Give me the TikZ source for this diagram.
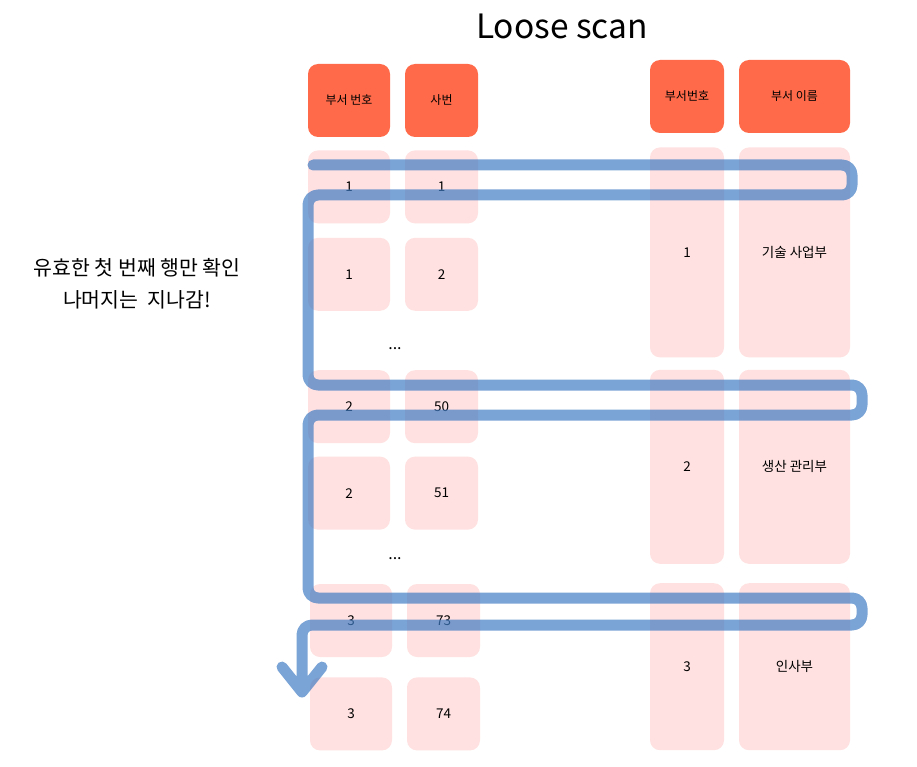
\documentclass[tikz,border=0pt]{standalone}
\usepackage{fontspec}
\setmainfont{Noto Sans CJK KR}
\usetikzlibrary{positioning}
\definecolor{headred}{HTML}{FF6B4A}
\definecolor{cellpink}{HTML}{FFE1E1}
\definecolor{scanblue}{HTML}{427DC4}

\begin{document}
\begin{tikzpicture}[x=1pt,y=-1pt,node distance=13pt,
    head node/.style={rounded corners=10pt,fill=headred,inner sep=0pt,minimum height=73pt,font=\fontsize{12}{14}\selectfont},
    cell node/.style={rounded corners=10pt,fill=cellpink,inner sep=0pt,minimum height=73pt,font=\fontsize{13.5}{15}\selectfont}]

            \useasboundingbox (0,0) rectangle (917,767);

            \node[font=\fontsize{33.5}{38}\selectfont] (title) at (562,26) {Loose scan};
            \node[align=center,font=\fontsize{20.5}{32}\selectfont] (note) at (137,284) {유효한 첫 번째 행만 확인\\나머지는\ \ 지나감!};

            % left table
            \node[head node, minimum width=82pt] (dh) at (349,100.5) {부서 번호};
            \node[head node, minimum width=73pt] (eh) at (441.5,100.5) {사번};
            \node[cell node, minimum width=82pt] (d1) [below=13pt of dh] {1};
            \node[cell node, minimum width=73pt] (e1) [below=13pt of eh] {1};
            \node[cell node, minimum width=82pt] (d2) [below=14pt of d1] {1};
            \node[cell node, minimum width=73pt] (e2) [below=14pt of e1] {2};
            \node[cell node, minimum width=82pt] (d3) [below=59pt of d2] {2};
            \node[cell node, minimum width=73pt] (e3) [below=59pt of e2] {50};
            \node[cell node, minimum width=82pt] (d4) [below=13pt of d3] {2};
            \node[cell node, minimum width=73pt] (e4) [below=13pt of e3] {51};
            \node[cell node, minimum width=82pt] (d5) [below=54pt of d4, xshift=2pt] {3};
            \node[cell node, minimum width=73pt] (e5) [below=54pt of e4, xshift=2pt] {73};
            \node[cell node, minimum width=82pt] (d6) [below=20pt of d5] {3};
            \node[cell node, minimum width=73pt] (e6) [below=20pt of e5] {74};
            \node[font=\fontsize{16}{18}\selectfont] (dots1) at (395,349) {...};
            \node[font=\fontsize{16}{18}\selectfont] (dots2) at (395,559) {...};

            % right table
            \node[head node, minimum width=74pt] (nh) at (687,96.5) {부서번호};
            \node[head node, minimum width=111pt] (mh) at (794.5,96.5) {부서 이름};
            \node[cell node, minimum width=74pt, minimum height=210pt] (n1) [below=14pt of nh] {1};
            \node[cell node, minimum width=111pt, minimum height=210pt] (m1) [below=14pt of mh] {기술 사업부};
            \node[cell node, minimum width=74pt, minimum height=194pt] (n2) [below=12pt of n1] {2};
            \node[cell node, minimum width=111pt, minimum height=194pt] (m2) [below=12pt of m1] {생산 관리부};
            \node[cell node, minimum width=74pt, minimum height=167pt] (n3) [below=19pt of n2] {3};
            \node[cell node, minimum width=111pt, minimum height=167pt] (m3) [below=19pt of m2] {인사부};

            % scan path
            \draw[scanblue, opacity=0.7, line width=11pt, line cap=round, line join=round, rounded corners=10pt]
                (313,165) -- (852,165) -- (852,195) -- (308,195) -- (308,385) -- (862,385) -- (862,415) -- (308,415)
                -- (308,598) -- (862,598) -- (862,625) -- (302,625) -- (302,692)
                (282,667) [sharp corners] -- (302,692) -- (322,667);

\end{tikzpicture}
\end{document}
